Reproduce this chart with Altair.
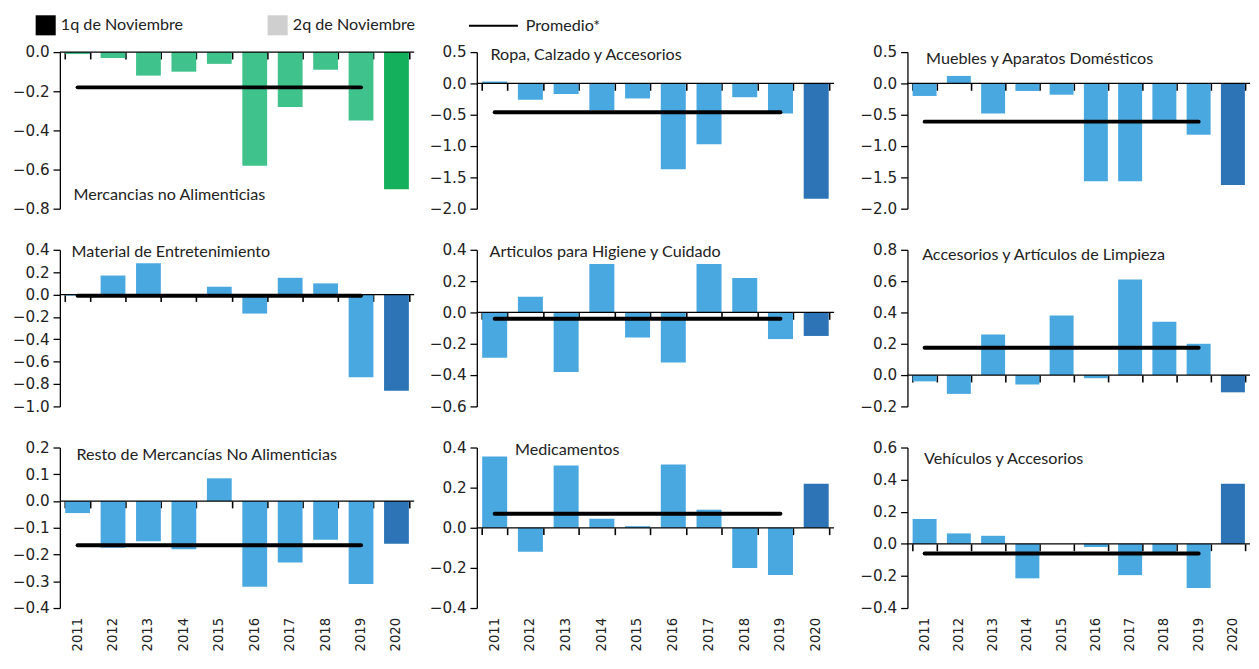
import altair as alt
import pandas as pd

years = ["2011", "2012", "2013", "2014", "2015", "2016", "2017", "2018", "2019", "2020"]

titles = [
    "Mercancias  no Alimenticias",
    "Ropa, Calzado y Accesorios",
    "Muebles y Aparatos  Domésticos",
    "Material  de Entretenimiento",
    "Articulos para Higiene y Cuidado",
    "Accesorios y Artículos de Limpieza",
    "Resto de Mercancías  No Alimenticias",
    "Medicamentos",
    "Vehículos y Accesorios",
]

v_mercancias = [-0.01, -0.03, -0.12, -0.10, -0.06, -0.58, -0.28, -0.09, -0.35, -0.70]
v_ropa = [0.03, -0.26, -0.17, -0.43, -0.24, -1.37, -0.97, -0.22, -0.48, -1.84]
v_muebles = [-0.20, 0.12, -0.48, -0.12, -0.18, -1.56, -1.56, -0.60, -0.82, -1.62]
v_entretenimiento = [-0.01, 0.17, 0.28, 0.00, 0.07, -0.17, 0.15, 0.10, -0.74, -0.86]
v_higiene = [-0.29, 0.10, -0.38, 0.31, -0.16, -0.32, 0.31, 0.22, -0.17, -0.15]
v_limpieza = [-0.04, -0.12, 0.26, -0.06, 0.38, -0.02, 0.61, 0.34, 0.20, -0.11]
v_resto = [-0.045, -0.175, -0.15, -0.18, 0.085, -0.32, -0.23, -0.145, -0.31, -0.16]
v_medicamentos = [0.355, -0.12, 0.31, 0.045, 0.008, 0.315, 0.09, -0.20, -0.235, 0.22]
v_vehiculos = [0.155, 0.065, 0.05, -0.215, 0.0, -0.02, -0.195, -0.06, -0.275, 0.375]

values = [v_mercancias, v_ropa, v_muebles, v_entretenimiento, v_higiene,
          v_limpieza, v_resto, v_medicamentos, v_vehiculos]

promedios = [-0.18, -0.46, -0.61, -0.01, -0.04, 0.175, -0.165, 0.07, -0.06]

y_domains = [(-0.8, 0.0), (-2.0, 0.5), (-2.0, 0.5), (-1.0, 0.4), (-0.6, 0.4),
             (-0.2, 0.8), (-0.4, 0.2), (-0.4, 0.4), (-0.4, 0.6)]
y_steps = [0.2, 0.5, 0.5, 0.2, 0.2, 0.2, 0.1, 0.2, 0.2]

quincenas = ["1q de Noviembre", "2q de Noviembre"]
promedio_label = ["Promedio*"]

FONT = "Lato"
AXFONT = "DejaVu Sans"
LIGHT = ["#3fc28c"] + ["#4aa8e0"] * 8
DARK = ["#14b05b"] + ["#2c74b5"] * 8

col_widths = [362, 365, 350]
row_heights = [160, 160, 164]
PI, PO = 0.3, 0.15

# title positions inside the plot (px from plot origin)
title_pos = [(14, 146), (14, 3), (19, 7), (12, 2), (13, 2), (15, 5), (17, 8), (39, 3), (17, 12)]


def make_panel(i):
    r, c = divmod(i, 3)
    w, h = col_widths[c], row_heights[r]
    bottom = r == 2
    lo, hi = y_domains[i]
    n = int(round((hi - lo) / y_steps[i]))
    ticks = [round(lo + k * y_steps[i], 2) for k in range(n + 1)]

    # category axis crossing at zero: only the boundary ticks, no labels
    zero_from_bottom = (0 - lo) / (hi - lo) * h
    xscale = alt.Scale(domain=years, paddingInner=PI, paddingOuter=PO)
    xaxis = alt.Axis(orient="bottom", offset=-zero_from_bottom, labels=False, domain=False,
                     ticks=True, tickBand="extent", tickSize=7, tickWidth=1.6,
                     tickColor="black", grid=False, title=None)

    def xenc(field, **kw):
        return alt.X(field, sort=years, title=None, axis=xaxis, scale=xscale, **kw)

    yscale = alt.Scale(domain=[lo, hi], nice=False, zero=False)
    yaxis = alt.Axis(values=ticks, format=".1f", grid=False, domainColor="black",
                     domainWidth=1.3, tickColor="black", tickWidth=1.3, tickSize=7,
                     labelFontSize=15.5, labelFont=AXFONT, labelColor="#222", labelPadding=4)

    def yenc(field):
        return alt.Y(field, scale=yscale, axis=yaxis, title=None)

    df = pd.DataFrame({"year": years, "value": values[i]})
    bars = alt.Chart(df).mark_bar().encode(
        x=xenc("year:N"),
        y=yenc("value:Q"),
        color=alt.condition("datum.year == '2020'", alt.value(DARK[i]), alt.value(LIGHT[i])),
    )

    zero_df = pd.DataFrame({"value": [0.0]})
    zero = alt.Chart(zero_df).mark_rule(color="black", strokeWidth=1.3).encode(
        y=yenc("value:Q")
    )

    avg_df = pd.DataFrame({"year": [years[0]], "hasta": [years[-2]], "value": [promedios[i]]})
    avg = alt.Chart(avg_df).mark_rule(color="black", strokeWidth=4, strokeCap="round").encode(
        x=xenc("year:N"),
        x2="hasta:N",
        y=yenc("value:Q"),
    )

    tx, ty = title_pos[i]
    label = alt.Chart(pd.DataFrame({"t": [titles[i]]})).mark_text(
        align="left", baseline="middle", fontSize=16.5, font=FONT, color="#222"
    ).encode(text="t:N", x=alt.value(tx), y=alt.value(ty))

    layers = [bars, zero, avg, label]
    if bottom:
        year_labels = alt.Chart(pd.DataFrame({"year": years})).mark_text(
            angle=270, align="right", baseline="middle", fontSize=13.5, font=AXFONT,
            color="#222"
        ).encode(x=xenc("year:N"), y=alt.value(h + 10), text="year:N")
        layers.append(year_labels)

    return alt.layer(*layers).properties(width=w, height=h)


panels = [make_panel(i) for i in range(9)]

rows = []
for r in range(3):
    p = panels[3 * r: 3 * r + 3]
    rows.append(alt.hconcat(alt.hconcat(p[0], p[1], spacing=14), p[2], spacing=25))

# legend row
q_df = pd.DataFrame({"quincena": quincenas})
p_df = pd.DataFrame({"promedio": promedio_label})
leg_common = dict(direction="horizontal", title=None, labelFont=FONT, labelFontSize=16.5,
                  labelColor="#222", symbolOpacity=1, padding=0)
q_layer = alt.Chart(q_df).mark_square(opacity=0).encode(
    fill=alt.Fill("quincena:N", sort=quincenas,
                  scale=alt.Scale(domain=quincenas, range=["black", "#cfcfcf"]),
                  legend=alt.Legend(orient="none", legendX=-25, legendY=0, columnPadding=85,
                                    symbolType="square", symbolSize=420, labelOffset=5,
                                    symbolStrokeWidth=0, **leg_common)),
)
p_layer = alt.Chart(p_df).mark_line(opacity=0).encode(
    stroke=alt.Stroke("promedio:N",
                      scale=alt.Scale(domain=promedio_label, range=["black"]),
                      legend=alt.Legend(orient="none", legendX=432, legendY=0,
                                        symbolType="M-2.5,0H2.5", symbolSize=400,
                                        labelOffset=22, symbolStrokeWidth=2, **leg_common)),
)
legend_chart = alt.layer(q_layer, p_layer).resolve_legend(
    fill="independent", stroke="independent"
).properties(width=600, height=20)

chart = alt.vconcat(
    legend_chart,
    alt.vconcat(*rows, spacing=26),
    spacing=10,
).properties(
    padding={"left": 4, "top": 0, "right": 0, "bottom": 0}
).configure_view(stroke=None)

chart.save("out.html", embed_options={"renderer": "svg", "actions": False})
